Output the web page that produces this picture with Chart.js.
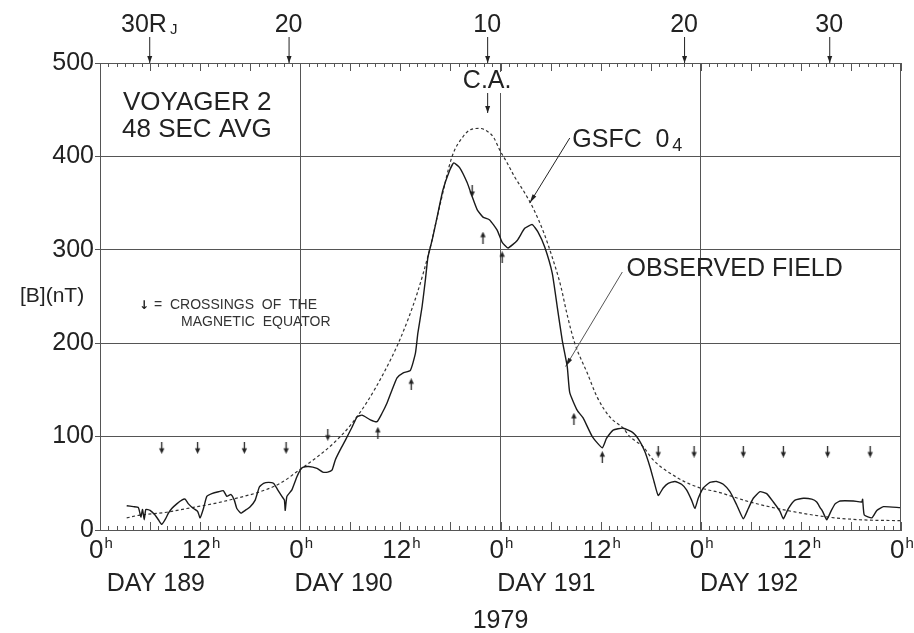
<!DOCTYPE html>
<html><head><meta charset="utf-8">
<script src="https://cdn.jsdelivr.net/npm/chart.js@4"></script>
<style>html,body{margin:0;padding:0;background:#fff}canvas{display:block}</style>
</head><body>
<canvas id="c" width="914" height="633"></canvas>
<script>
// ---- data (hours since 0h DAY 189, 1979; field |B| in nT) ----
const obsHours = [3.2,4.0,4.6,4.9,5.1,5.3,5.5,6.0,6.6,7.0,7.4,7.8,8.2,8.6,9.2,9.8,10.2,10.6,11.2,11.7,12.0,12.4,12.8,13.4,14.2,14.8,15.2,15.7,16.1,16.4,16.9,17.4,18.0,18.6,19.1,19.6,20.2,20.8,21.3,21.8,22.1,22.2,22.4,23.0,23.6,24.0,24.3,25.0,26.0,26.7,27.3,27.8,28.2,28.8,29.4,30.2,30.8,31.4,32.4,33.2,33.8,34.4,35.0,35.6,36.3,37.2,37.8,38.1,38.6,39.0,39.3,39.8,40.4,41.1,41.9,42.4,43.1,44.0,44.6,45.2,45.9,46.7,47.6,48.2,48.9,50.0,50.9,51.8,52.5,53.3,54.2,54.8,55.4,56.0,56.3,57.2,57.9,59.0,60.2,60.7,61.5,62.7,63.9,64.7,65.3,65.9,66.4,66.9,67.5,68.1,68.9,69.7,70.3,70.9,71.3,71.7,72.3,73.1,73.9,74.7,75.5,76.3,77.1,77.7,78.3,79.1,79.9,80.7,81.5,81.9,82.5,83.3,84.3,85.3,85.9,86.3,86.6,87.1,87.6,88.1,88.7,90.3,91.3,91.4,91.6,92.5,93.1,93.9,95.9];
const obsField = [26,25,24,14,22,11,22,21,16,11,6,11,18,23,28,32,33,28,23,20,13,23,36,39,41,42,36,38,32,23,18,21,25,32,46,50,51,50,43,36,32,21,36,43,57,64,67,68,66,62,62,64,75,86,96,110,121,123,118,116,125,136,150,163,168,171,189,211,239,268,292,310,335,364,385,393,388,372,357,343,335,332,321,308,302,310,323,327,319,303,275,239,203,175,147,128,120,100,88,98,107,109,104,95,84,68,52,37,45,50,52,49,43,32,23,34,45,51,52,49,41,27,12,23,34,41,39,30,20,12,23,32,34,33,30,24,20,11,20,28,31,31,30,33,16,13,21,25,24];
const modelHours = [3.2,4.8,8.0,10.4,13.5,16.8,19.2,21.6,24.0,26.0,28.0,30.0,32.0,34.0,36.0,38.0,39.5,40.8,42.2,43.5,44.5,45.5,46.4,47.2,47.9,48.8,49.7,50.9,52.0,53.2,54.2,55.2,56.0,56.9,58.4,59.6,61.1,62.7,63.5,65.1,66.3,69.2,71.6,74.3,77.9,82.3,87.1,91.0,95.9];
const modelField = [13,16,19,23,28,35,41,50,65,78,93,112,137,168,205,253,300,350,400,421,429,430,427,420,407,393,378,361,343,318,292,262,230,200,168,142,121,109,100,89,75,56,46,40,30,21,14,11,10];
// magnetic equator crossings (marker centre positions)
const crossDownHours = [7.4,11.7,17.3,22.3,27.3,44.6,66.9,71.2,77.1,81.9,87.2,92.3];
const crossDownField = [88,88,88,88,102,363,84,84,84,84,84,84];
const crossUpHours = [33.3,37.3,45.9,48.2,56.8,60.2];
const crossUpField = [104,156,313,292,119,78];
// axis labels
const hourTickValues = [0,12,24,36,48,60,72,84,96];
const hourTickLabels = ['0','12','0','12','0','12','0','12','0'];
const dayLabels = ['DAY 189','DAY 190','DAY 191','DAY 192'];
const dayLabelHours = [6.7,29.2,53.5,77.8];
const rangeLabels = ['30R','20','10','20','30'];
const rangeSubs = ['J','','','',''];
const rangeHours = [5.9,22.6,46.4,70.0,87.4];
const closestApproachHour = 46.4;
const yearLabel = '1979';

const ink = '#222';
const gridCol = '#555';
const FF = '"Liberation Sans", Arial, Helvetica, sans-serif';

function makeArrow(up){
  const c = document.createElement('canvas'); c.width = 7; c.height = 12;
  const g = c.getContext('2d'); g.strokeStyle = ink; g.fillStyle = ink; g.lineWidth = 1.3;
  g.beginPath();
  if (!up) { g.moveTo(3.5,0); g.lineTo(3.5,8); } else { g.moveTo(3.5,12); g.lineTo(3.5,4); }
  g.stroke();
  g.beginPath();
  if (!up) { g.moveTo(0.8,6.5); g.lineTo(6.2,6.5); g.lineTo(3.5,12); }
  else { g.moveTo(0.8,5.5); g.lineTo(6.2,5.5); g.lineTo(3.5,0); }
  g.closePath(); g.fill();
  return c;
}
const downArrow = makeArrow(false), upArrow = makeArrow(true);

function arrowLine(ctx, x1, y1, x2, y2, head, w){
  ctx.beginPath(); ctx.moveTo(x1,y1); ctx.lineTo(x2,y2); ctx.stroke();
  const ang = Math.atan2(y2-y1, x2-x1);
  ctx.beginPath();
  ctx.moveTo(x2,y2);
  ctx.lineTo(x2 - head*Math.cos(ang) + w*Math.sin(ang), y2 - head*Math.sin(ang) - w*Math.cos(ang));
  ctx.lineTo(x2 - head*Math.cos(ang) - w*Math.sin(ang), y2 - head*Math.sin(ang) + w*Math.cos(ang));
  ctx.closePath(); ctx.fill();
}

const annot = {
  id: 'annot',
  afterDraw(chart){
    const ctx = chart.ctx, a = chart.chartArea, xs = chart.scales.x, ys = chart.scales.y;
    const X = h => xs.getPixelForValue(h), Y = v => ys.getPixelForValue(v);
    ctx.save();
    // erase grid line behind C.A. label
    ctx.strokeStyle = '#fff'; ctx.lineWidth = 3;
    ctx.beginPath(); ctx.moveTo(X(48)+0.5, a.top+9); ctx.lineTo(X(48)+0.5, a.top+30); ctx.stroke();
    // top and right frame
    ctx.strokeStyle = gridCol; ctx.lineWidth = 1;
    ctx.beginPath();
    ctx.moveTo(a.left, a.top+0.5); ctx.lineTo(a.right, a.top+0.5);
    ctx.moveTo(a.right-0.5, a.top); ctx.lineTo(a.right-0.5, a.bottom);
    ctx.stroke();
    // hour tick marks on bottom and top
    ctx.beginPath();
    for (let h = 0; h <= 96; h++){
      const px = Math.round(X(h)) + 0.5, len = (h % 6 === 0) ? 8 : 4;
      ctx.moveTo(px, a.bottom); ctx.lineTo(px, a.bottom - len);
      ctx.moveTo(px, a.top); ctx.lineTo(px, a.top + len);
    }
    ctx.stroke();
    ctx.fillStyle = ink; ctx.strokeStyle = ink;
    // bottom hour labels with superscript h
    hourTickValues.forEach((h, i) => {
      ctx.font = '26px ' + FF; const wN = ctx.measureText(hourTickLabels[i]).width;
      ctx.font = '15px ' + FF; const wH = ctx.measureText('h').width;
      const x0 = X(h) + 1 - (wN + 1 + wH) / 2;
      ctx.textAlign = 'left'; ctx.textBaseline = 'alphabetic';
      ctx.font = '26px ' + FF; ctx.fillText(hourTickLabels[i], x0, a.bottom + 28);
      ctx.font = '15px ' + FF; ctx.fillText('h', x0 + wN + 1, a.bottom + 18);
    });
    // day labels
    ctx.font = '25px ' + FF; ctx.textAlign = 'center';
    dayLabels.forEach((t, i) => ctx.fillText(t, X(dayLabelHours[i]), a.bottom + 61));
    ctx.fillText(yearLabel, X(48), a.bottom + 98);
    // top range labels with arrows
    ctx.lineWidth = 1;
    rangeLabels.forEach((t, i) => {
      const px = X(rangeHours[i]);
      ctx.font = '25px ' + FF; const w = ctx.measureText(t).width;
      let ws = 0;
      if (rangeSubs[i]) { ctx.font = '15px ' + FF; ws = ctx.measureText(rangeSubs[i]).width + 3; }
      ctx.textAlign = 'left';
      ctx.font = '25px ' + FF; ctx.fillText(t, px - (w + ws) / 2, 32);
      if (rangeSubs[i]) { ctx.font = '15px ' + FF; ctx.fillText(rangeSubs[i], px - (w + ws) / 2 + w + 3, 34); }
      arrowLine(ctx, px + 0.5, 37, px + 0.5, a.top, 7, 2.5);
    });
    // closest approach
    const ca = X(closestApproachHour);
    ctx.font = '25px ' + FF; ctx.textAlign = 'center';
    ctx.fillText('C.A.', ca, a.top + 25);
    arrowLine(ctx, ca + 0.5, a.top + 30, ca + 0.5, a.top + 50, 7, 2.5);
    // panel text
    ctx.textAlign = 'left'; ctx.font = '26px ' + FF;
    ctx.fillText('VOYAGER 2', a.left + 23, a.top + 47);
    ctx.fillText('48 SEC AVG', a.left + 22, a.top + 74);
    // y axis title
    ctx.font = '21px ' + FF;
    ctx.fillText('[B](nT)', 20, 302);
    // crossing note
    ctx.font = 'bold 12px "DejaVu Sans", sans-serif';
    ctx.fillText('\u2193', 139, 309);
    ctx.font = '14px ' + FF; ctx.fillStyle = '#333';
    ctx.fillText('=  CROSSINGS  OF  THE', 154, 309);
    ctx.fillText('MAGNETIC  EQUATOR', 181, 326);
    ctx.fillStyle = ink;
    // model label + leader
    ctx.font = '25px ' + FF;
    ctx.fillText('GSFC  0', X(56.6), 147);
    ctx.font = '18px ' + FF;
    ctx.fillText('4', X(56.6) + 100, 151);
    ctx.lineWidth = 1;
    arrowLine(ctx, X(56.3), 138, X(51.5), Y(350), 9, 2.2);
    // observed label + leader
    ctx.font = '25px ' + FF;
    ctx.fillText('OBSERVED FIELD', X(63.1), 276);
    ctx.strokeStyle = '#555';
    arrowLine(ctx, X(62.6), 272, X(55.8), Y(175), 9, 2.2);
    ctx.restore();
  }
};

const pts = (hs, vs) => hs.map((h, i) => ({x: h, y: vs[i]}));

new Chart(document.getElementById('c'), {
  type: 'line',
  data: {
    datasets: [
      { label: 'OBSERVED FIELD', data: pts(obsHours, obsField), borderColor: '#1a1a1a', borderWidth: 1.4,
        pointRadius: 0, tension: 0.15, fill: false },
      { label: 'GSFC O4', data: pts(modelHours, modelField), borderColor: '#333', borderWidth: 1.2,
        borderDash: [3, 2.5], pointRadius: 0, cubicInterpolationMode: 'monotone', fill: false },
      { type: 'scatter', label: 'crossings down', data: pts(crossDownHours, crossDownField),
        pointStyle: downArrow, pointRadius: 6, showLine: false },
      { type: 'scatter', label: 'crossings up', data: pts(crossUpHours, crossUpField),
        pointStyle: upArrow, pointRadius: 6, showLine: false }
    ]
  },
  options: {
    responsive: false, animation: false, devicePixelRatio: 1,
    layout: { padding: { top: 63, right: 13, left: 0, bottom: 0 } },
    plugins: { legend: { display: false }, tooltip: { enabled: false } },
    scales: {
      x: {
        type: 'linear', min: 0, max: 96,
        ticks: { stepSize: 24, display: false },
        grid: { drawTicks: false, color: c => (c.tick && (c.tick.value === 0 || c.tick.value === 96)) ? 'rgba(0,0,0,0)' : gridCol, lineWidth: 1 },
        border: { color: gridCol, width: 1 },
        afterFit: s => { s.height = 103; }
      },
      y: {
        min: 0, max: 500,
        ticks: { stepSize: 100, color: ink, padding: 1, font: { size: 25, family: FF } },
        grid: { color: gridCol, lineWidth: 1, tickLength: 5 },
        border: { color: gridCol, width: 1 },
        afterFit: s => { s.width = 100; }
      }
    }
  },
  plugins: [annot]
});
</script>
</body></html>
